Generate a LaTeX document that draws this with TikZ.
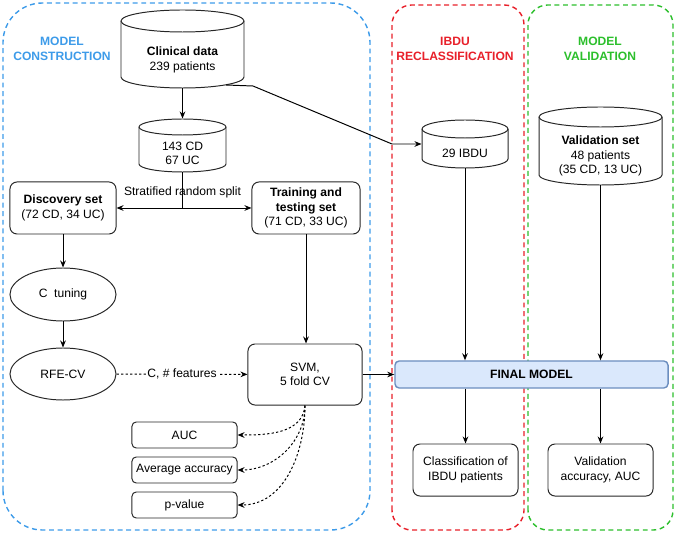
\documentclass[tikz,border=0pt]{standalone}
\usepackage{fontspec}
\setmainfont{Liberation Sans}
\usetikzlibrary{arrows.meta,shapes.geometric,fit}

\definecolor{mcblue}{HTML}{3D9BE9}
\definecolor{rcred}{HTML}{E8202A}
\definecolor{mvgreen}{HTML}{2CBF2C}
\definecolor{fmfill}{HTML}{DAE8FC}
\definecolor{fmdraw}{HTML}{6C8EBF}

\tikzset{
  box/.style={draw=black!85, rounded corners=5pt, align=center, inner sep=2pt},
  oval/.style={draw=black!85, ellipse, align=center, inner sep=1pt},
  phase/.style={line width=1pt, dash pattern=on 3.5pt off 2.6pt},
  phasetitle/.style={font=\fontsize{8.6}{10.3}\selectfont\bfseries, align=center},
  dotline/.style={dash pattern=on 1.6pt off 1.6pt}
}

% cylinder: name, left, bottom, width, height, cap, text
\newcommand{\dbcyl}[7]{%
  \draw[draw=black!85] (#2,#3+#6) -- (#2,#3+#5-#6)
    arc[start angle=180, end angle=0, x radius=#4/2, y radius=#6]
    -- (#2+#4,#3+#6)
    arc[start angle=0, end angle=-180, x radius=#4/2, y radius=#6] -- cycle;
  \draw[draw=black!85] (#2,#3+#5-#6) arc[start angle=180, end angle=360, x radius=#4/2, y radius=#6];
  \node[fit={(#2,#3) (#2+#4,#3+#5)}, inner sep=0pt] (#1) {};
  \node[align=center] (#1-txt) at (#2+#4/2,#3+#5/2-#6) {#7};
}

\begin{document}
\begin{tikzpicture}[x=0.025cm, y=0.025cm, line width=0.7pt,
    >={Stealth[length=5pt, width=4pt]}, font=\fontsize{8.6}{10.3}\selectfont]
  \useasboundingbox (0,0) rectangle (675,533);

  % phases
  \draw[phase, mcblue, rounded corners=28pt] (3,3) rectangle (370,530);
  \draw[phase, rcred, rounded corners=14pt] (392,3) rectangle (524,528);
  \draw[phase, mvgreen, rounded corners=14pt] (528,3) rectangle (673,528);
  \node[phasetitle, text=mcblue] (mc) at (62,484) {MODEL\\CONSTRUCTION};
  \node[phasetitle, text=rcred] (rc) at (455,484) {IBDU\\RECLASSIFICATION};
  \node[phasetitle, text=mvgreen] (mv) at (600,484) {MODEL\\VALIDATION};

  % data
  \dbcyl{clin}{121}{445}{123}{78}{11}{\textbf{Clinical data}\\239 patients}
  \dbcyl{split}{139}{361}{87}{53}{8}{143 CD\\67 UC}
  \dbcyl{ibdu}{422}{365}{86}{48}{9}{29 IBDU}
  \dbcyl{valid}{539}{348}{123}{78}{10}{\textbf{Validation set}\\48 patients\\(35 CD, 13 UC)}

  \node[box, minimum width=2.65cm, minimum height=1.3cm] (disc) at (63,325) {\textbf{Discovery set}\\(72 CD, 34 UC)};
  \node[box, minimum width=2.7cm, minimum height=1.3cm] (train) at (306,325) {\textbf{Training and}\\\textbf{testing set}\\(71 CD, 33 UC)};
  \node[oval, minimum width=2.65cm, minimum height=1.325cm] (ctune) at (63,238.5) {C~~tuning};
  \node[oval, minimum width=2.65cm, minimum height=1.3cm] (rfe) at (63,159) {RFE-CV};
  \node[box, minimum width=2.85cm, minimum height=1.525cm] (svm) at (305,158.5) {SVM,\\5 fold CV};
  \node[box, minimum width=2.625cm, minimum height=0.65cm, rounded corners=3pt] (auc) at (184.5,98) {AUC};
  \node[box, minimum width=2.625cm, minimum height=0.65cm, rounded corners=3pt] (avg) at (184.5,63) {Average accuracy};
  \node[box, minimum width=2.625cm, minimum height=0.65cm, rounded corners=3pt] (pval) at (184.5,28) {p-value};
  \node[box, draw=fmdraw, fill=fmfill, line width=1pt, rounded corners=3pt, minimum width=6.825cm, minimum height=0.675cm] (final) at (531.5,158.5) {\textbf{FINAL MODEL}};
  \node[box, minimum width=2.625cm, minimum height=1.3cm] (cls) at (465.5,63) {Classification of\\IBDU patients};
  \node[box, minimum width=2.625cm, minimum height=1.3cm] (vacc) at (600.5,63) {Validation\\accuracy, AUC};

  % connectors
  \coordinate (fork) at (182.5,325);
  \coordinate (clin-out) at (226,448);
  \draw[->] (clin) -- (split);
  \draw (split) -- (fork);
  \draw[->] (fork) -- (disc);
  \draw[->] (fork) -- (train);
  \node (splitlbl) at (182.5,341) {Stratified random split};
  \draw[->] (clin-out) -- (253,447) -- (392,389) -- (ibdu);
  \draw[->] (disc) -- (ctune);
  \draw[->] (ctune) -- (rfe);
  \draw[->] (train.south) -- (train.south |- svm.north);
  \draw[->, dotline] (rfe) -- node[fill=white, inner sep=1pt] (feat) {C, \# features} (svm);
  \draw[->] (svm) -- (final);
  \draw[->] (ibdu) -- (ibdu |- final.north);
  \draw[->] (valid) -- (valid |- final.north);
  \draw[->] (final.south -| cls) -- (cls);
  \draw[->] (final.south -| vacc) -- (vacc);
  \draw[->, dotline] (svm.south) to[out=-95, in=0] (auc.east);
  \draw[->, dotline] (svm.south) to[out=-90, in=0] (avg.east);
  \draw[->, dotline] (svm.south) to[out=-90, in=0] (pval.east);
\end{tikzpicture}
\end{document}
